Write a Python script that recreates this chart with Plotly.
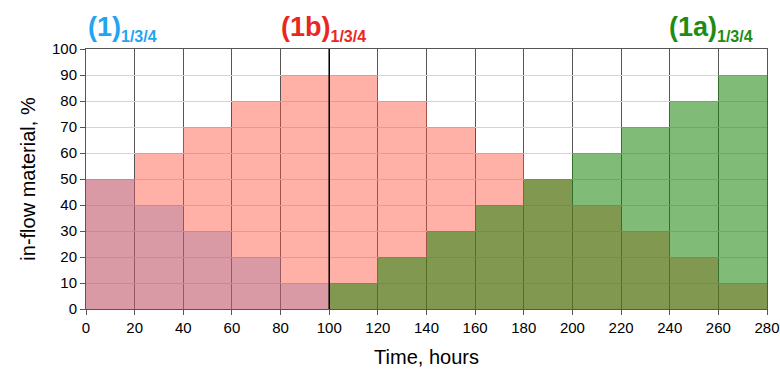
import plotly.graph_objects as go

bin_start = [0, 20, 40, 60, 80, 100, 120, 140, 160, 180, 200, 220, 240, 260]
bin_width = 20
series_1 = [50, 40, 30, 20, 10, 0, 0, 0, 0, 0, 0, 0, 0, 0]
series_1b = [50, 60, 70, 80, 90, 90, 80, 70, 60, 50, 40, 30, 20, 10]
series_1a = [0, 0, 0, 0, 0, 10, 20, 30, 40, 50, 60, 70, 80, 90]
split_time = 100
x_ticks = list(range(0, 281, 20))
y_ticks = list(range(0, 101, 10))

centers = [s + bin_width / 2 for s in bin_start]
FONT = "Liberation Sans, Arial, sans-serif"

fig = go.Figure()
fig.add_trace(go.Bar(x=centers, y=series_1b, width=bin_width,
                     marker=dict(color="rgba(255,80,60,0.45)", line=dict(width=0))))
fig.add_trace(go.Bar(x=centers, y=series_1, width=bin_width,
                     marker=dict(color="rgba(128,103,167,0.30)", line=dict(width=0))))
fig.add_trace(go.Bar(x=centers, y=series_1a, width=bin_width,
                     marker=dict(color="rgba(24,133,10,0.55)", line=dict(width=0))))

fig.add_shape(type="line", x0=split_time, x1=split_time, y0=0, y1=100,
              xref="x", yref="y", line=dict(color="black", width=1.5), layer="above")

def label(txt, sub, color, x):
    fig.add_annotation(
        text=f"<b>{txt}<sub><span style='font-size:16px'>{sub}</span></sub></b>",
        xref="paper", yref="paper", x=x, y=1.08, xanchor="left", yanchor="middle",
        showarrow=False, font=dict(family=FONT, size=27, color=color))

label("(1)", "1/3/4", "#1fa5f2", 0.0)
label("(1b)", "1/3/4", "#e8281e", 0.283)
label("(1a)", "1/3/4", "#1e8c14", 0.853)

fig.update_layout(
    width=780, height=371,
    margin=dict(l=86, r=13, t=49, b=62),
    paper_bgcolor="white", plot_bgcolor="white",
    barmode="overlay", bargap=0, showlegend=False,
    font=dict(family=FONT, size=15, color="black"),
)
fig.update_xaxes(range=[0, 280], tickvals=x_ticks, showgrid=True, gridcolor="#555555",
                 gridwidth=1, showline=True, linecolor="#555555", linewidth=1, mirror=True,
                 ticks="outside", ticklen=5, tickcolor="#555555", zeroline=False,
                 automargin=False,
                 title=dict(text="Time, hours", font=dict(size=20), standoff=14))
fig.update_yaxes(range=[0, 100], tickvals=y_ticks, showgrid=True, gridcolor="#d4d4d4",
                 gridwidth=1, showline=True, linecolor="#555555", linewidth=1, mirror=True,
                 ticks="outside", ticklen=5, tickcolor="#555555", zeroline=False,
                 automargin=False,
                 title=dict(text="in-flow material, %", font=dict(size=20), standoff=10))

fig.write_html("out.html")
